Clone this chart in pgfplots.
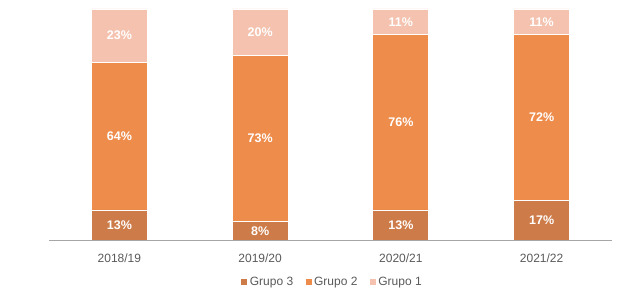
\documentclass[border=0pt]{standalone}
\usepackage{fontspec}
\setmainfont{Liberation Sans}
\usepackage{pgfplots}
\pgfplotsset{compat=1.18}
\usepackage{pgfplotstable}
\definecolor{gthree}{HTML}{CD7B48}
\definecolor{gtwo}{HTML}{EE8C4C}
\definecolor{gone}{HTML}{F4C2AE}
\definecolor{txt}{HTML}{595959}
\definecolor{axl}{HTML}{A6A6A6}

\pgfplotstableread{
x g3 g2 g1
0 13 64 23
1 8 72 20
2 13 76 11
3 17 72 11
}\bars

\pgfplotstableread{
x y lab
0 6.5 13
0 45 64
0 88.5 23
1 4 8
1 44 73
1 90 20
2 6.5 13
2 51 76
2 94.5 11
3 8.5 17
3 53 72
3 94.5 11
}\labs

\begin{document}
\begin{tikzpicture}
\path[use as bounding box] (0,0) rectangle (640bp,293bp);
\pgfplotsset{
  common/.style={
    at={(49bp,53bp)}, anchor=south west,
    scale only axis, width=563bp, height=231bp,
    xmin=-0.5, xmax=3.5, ymin=0, ymax=100,
  }
}
\begin{axis}[common,
  ybar stacked, bar width=56bp,
  axis x line=bottom, axis y line=none,
  x axis line style={-, draw=axl, line width=0.8bp},
  xtick={0,1,2,3},
  xticklabels={2018/19,2019/20,2020/21,2021/22},
  xtick style={draw=none},
  xticklabel style={anchor=north, inner sep=0pt, yshift=-11bp, text=txt, font=\fontsize{12bp}{14bp}\selectfont},
  ytick=\empty,
  legend style={draw=none, fill=none, at={(0.502,-0.1818)}, anchor=center,
    legend columns=3, font=\fontsize{12bp}{14bp}\selectfont, text=txt,
    nodes={inner sep=0pt},
    /tikz/every odd column/.append style={column sep=2.4bp},
    /tikz/every even column/.append style={column sep=12.5bp},
    legend cell align=left, inner sep=0pt},
  legend image code/.code={\fill[#1, draw=none] (0bp,-3bp) rectangle (6bp,3bp);},
]
\addplot[fill=gthree, draw=white, line width=0.8bp] table[x=x, y=g3]{\bars};
\addplot[fill=gtwo, draw=white, line width=0.8bp] table[x=x, y=g2]{\bars};
\addplot[fill=gone, draw=white, line width=0.8bp] table[x=x, y=g1]{\bars};
\legend{Grupo 3, Grupo 2, Grupo 1}
\end{axis}
\begin{axis}[common, axis lines=none, ticks=none]
\addplot[draw=none, mark=none, nodes near coords={\pgfplotspointmeta\%},
  point meta=explicit symbolic,
  every node near coord/.style={anchor=center, text=white, font=\fontsize{12.5bp}{14bp}\selectfont\bfseries}]
  table[x=x, y=y, meta=lab]{\labs};
\end{axis}
\end{tikzpicture}
\end{document}
